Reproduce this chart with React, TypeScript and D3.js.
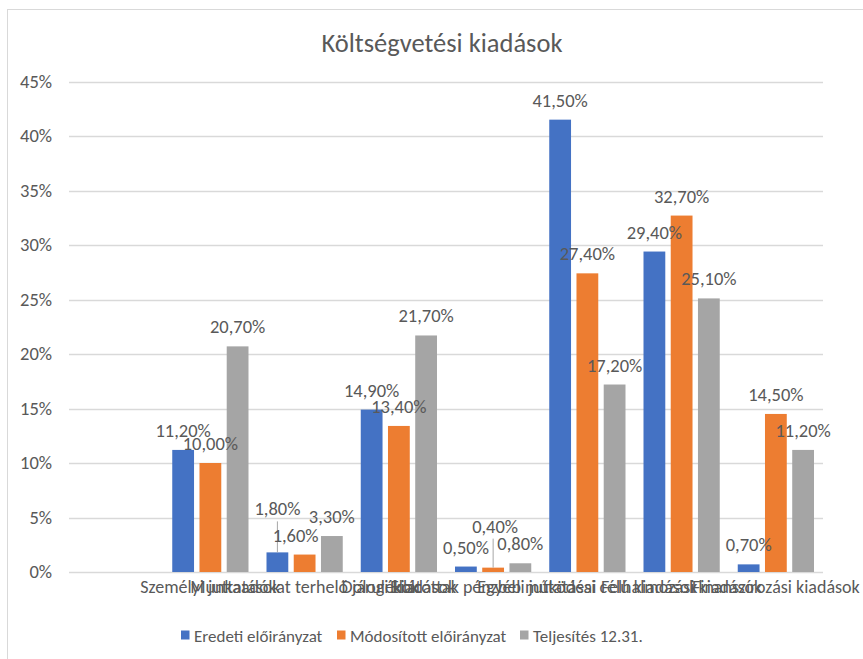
import React, { useRef, useEffect } from "react";
import * as d3 from "d3";

// Chart data
const categories = [
  "",
  "Személyi juttatások",
  "Munkaadókat terhelő járulékok",
  "Dologi kiadások",
  "Ellátottak pénzbeli juttatásai",
  "Egyéb működési célú kiadások",
  "Felhalmozási kiadások",
  "Finanszírozási kiadások",
];
const seriesNames = ["Eredeti előirányzat", "Módosított előirányzat", "Teljesítés 12.31."];
const eredeti = [null, 11.2, 1.8, 14.9, 0.5, 41.5, 29.4, 0.7];
const modositott = [null, 10.0, 1.6, 13.4, 0.4, 27.4, 32.7, 14.5];
const teljesites = [null, 20.7, 3.3, 21.7, 0.8, 17.2, 25.1, 11.2];
const yTicks = [0, 5, 10, 15, 20, 25, 30, 35, 40, 45];
const colors = ["#4472C4", "#ED7D31", "#A5A5A5"];

// manually moved data labels (series, category) -> [dx, dy, leader line]
const labelNudge: Record<string, [number, number, boolean]> = {
  "0-2": [0, -24, true],
  "1-2": [-9, 0, false],
  "1-4": [2, -22, true],
};

const W = 863;
const H = 659;
const FONT = "Carlito, Calibri, 'Liberation Sans', Arial, sans-serif";
const TEXT = "#595959";

const App: React.FC = () => {
  const svgRef = useRef<SVGSVGElement>(null);

  useEffect(() => {
    const svg = d3.select(svgRef.current);
    svg.selectAll("*").remove();

    const left = 69;
    const right = 823;
    const top = 81.5;
    const bottom = 572;

    const values = [eredeti, modositott, teljesites];

    const x0 = d3.scaleBand<string>().domain(categories.map((_, i) => String(i))).range([left, right]);
    const x1 = d3
      .scaleBand<number>()
      .domain([0, 1, 2])
      .range([9, x0.bandwidth() - 9])
      .paddingInner(0.2);
    const y = d3.scaleLinear().domain([0, 45]).range([bottom, top]);

    // outer border
    svg
      .append("rect")
      .attr("x", 7.5)
      .attr("y", 9.5)
      .attr("width", 900)
      .attr("height", 700)
      .attr("fill", "white")
      .attr("stroke", "#D9D9D9");

    // title
    svg
      .append("text")
      .attr("x", 442)
      .attr("y", 52)
      .attr("text-anchor", "middle")
      .attr("font-size", 26.5)
      .attr("fill", TEXT)
      .text("Költségvetési kiadások");

    // gridlines and y labels
    const grid = svg.append("g");
    grid
      .selectAll("line")
      .data(yTicks)
      .join("line")
      .attr("x1", left)
      .attr("x2", right)
      .attr("y1", (d) => Math.round(y(d)) + 0.5)
      .attr("y2", (d) => Math.round(y(d)) + 0.5)
      .attr("stroke", "#D9D9D9")
      .attr("stroke-width", 1.3);
    grid
      .selectAll("text")
      .data(yTicks)
      .join("text")
      .attr("x", 52)
      .attr("y", (d) => y(d) + 6)
      .attr("text-anchor", "end")
      .attr("font-size", 18.5)
      .attr("fill", TEXT)
      .text((d) => `${d}%`);

    // bars
    values.forEach((vals, s) => {
      svg
        .append("g")
        .attr("fill", colors[s])
        .selectAll("rect")
        .data(vals.map((v, i) => ({ v, i })).filter((d) => d.v !== null))
        .join("rect")
        .attr("x", (d) => x0(String(d.i))! + x1(s)!)
        .attr("y", (d) => y(d.v as number))
        .attr("width", x1.bandwidth())
        .attr("height", (d) => bottom - y(d.v as number));
    });

    // data labels
    const labels = svg.append("g").attr("font-size", 18.5).attr("fill", TEXT).attr("text-anchor", "middle");
    values.forEach((vals, s) => {
      vals.forEach((v, i) => {
        if (v === null) return;
        const cx = x0(String(i))! + x1(s)! + x1.bandwidth() / 2;
        const barTop = y(v);
        const [dx, dy, leader] = labelNudge[`${s}-${i}`] || [0, 0, false];
        const by = barTop - 13 + dy;
        if (leader) {
          labels
            .append("line")
            .attr("x1", cx)
            .attr("x2", cx)
            .attr("y1", by + 6)
            .attr("y2", barTop)
            .attr("stroke", "#A6A6A6")
            .attr("stroke-width", 1);
        }
        labels
          .append("text")
          .attr("x", cx + dx)
          .attr("y", by)
          .text(d3.format(".2f")(v).replace(".", ",") + "%");
      });
    });

    // category labels
    svg
      .append("g")
      .selectAll("text")
      .data(categories)
      .join("text")
      .attr("x", (_, i) => x0(String(i))! + x0.bandwidth() / 2)
      .attr("y", 593)
      .attr("text-anchor", "middle")
      .attr("font-size", 18)
      .attr("fill", TEXT)
      .text((d) => d);

    // legend
    const legendX = [181, 337, 520];
    const legend = svg.append("g");
    seriesNames.forEach((name, s) => {
      legend
        .append("rect")
        .attr("x", legendX[s])
        .attr("y", 630.5)
        .attr("width", 8.5)
        .attr("height", 9)
        .attr("fill", colors[s]);
      legend
        .append("text")
        .attr("x", legendX[s] + 13)
        .attr("y", 641.5)
        .attr("font-size", 17)
        .attr("fill", TEXT)
        .text(name);
    });
  }, []);

  return (
    <svg
      ref={svgRef}
      width={W}
      height={H}
      style={{ position: "absolute", left: 0, top: 0, fontFamily: FONT, background: "white" }}
    ></svg>
  );
};

export default App;
